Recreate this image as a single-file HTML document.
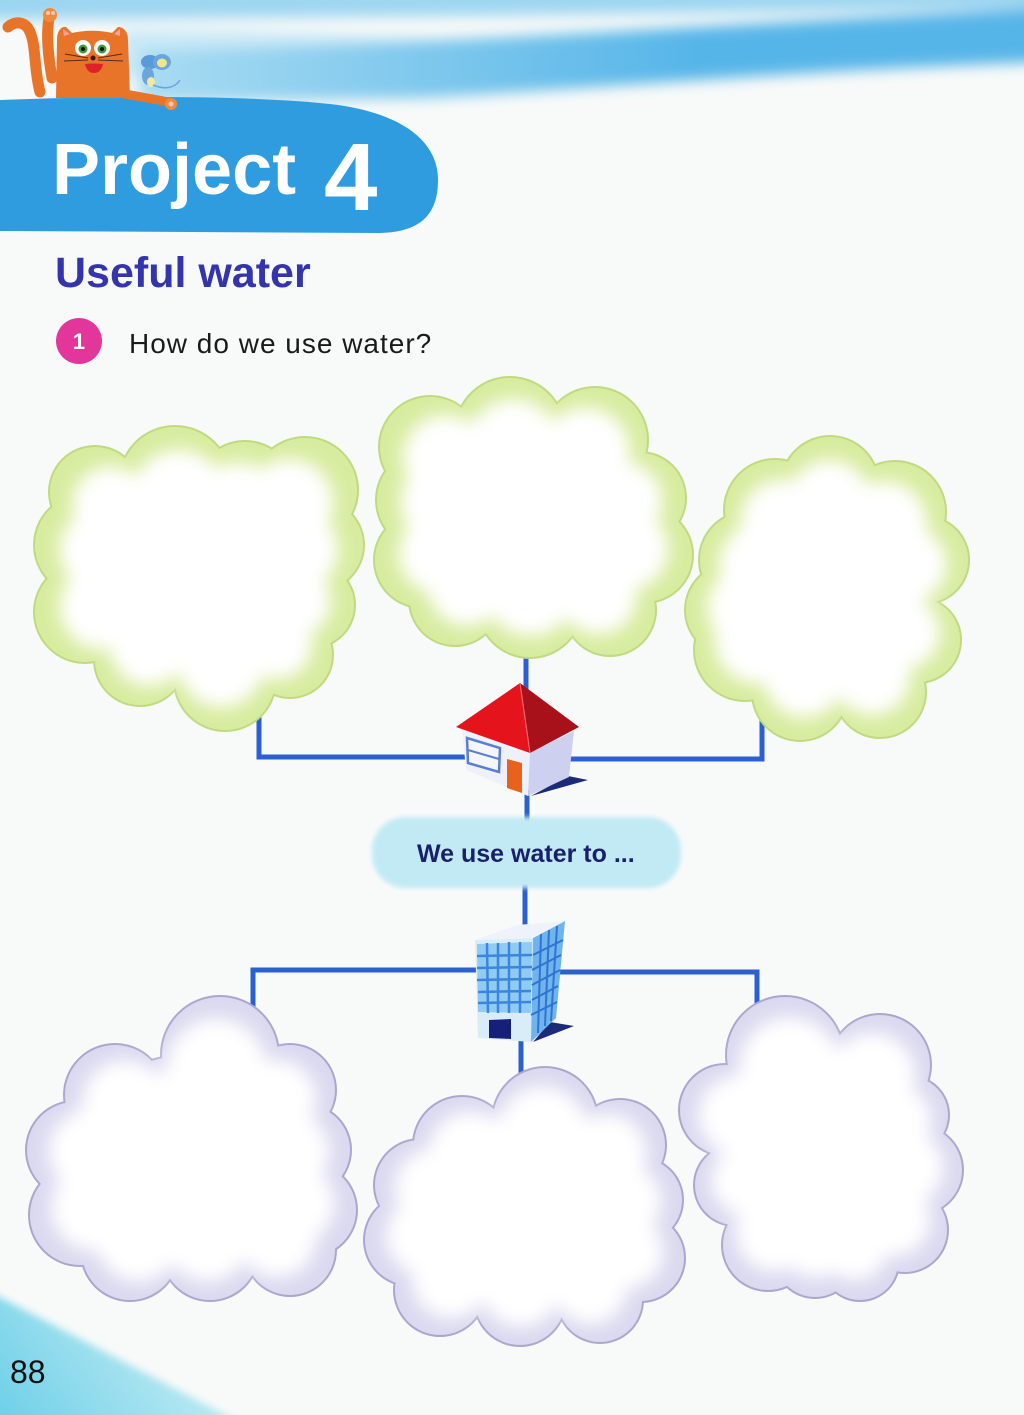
<!DOCTYPE html>
<html><head><meta charset="utf-8"><style>
html,body{margin:0;padding:0;background:#f8faf9;}
svg{display:block;}
</style></head><body>
<svg width="1024" height="1415" viewBox="0 0 1024 1415" xmlns="http://www.w3.org/2000/svg">
<defs>
<filter id="b" x="-20%" y="-20%" width="140%" height="140%"><feGaussianBlur stdDeviation="10"/></filter>
<filter id="s" x="-10%" y="-50%" width="120%" height="200%"><feGaussianBlur stdDeviation="7"/></filter>
<filter id="p" x="-10%" y="-20%" width="120%" height="140%"><feGaussianBlur stdDeviation="2.5"/></filter>
<filter id="c" x="-20%" y="-20%" width="140%" height="140%"><feGaussianBlur stdDeviation="4"/></filter>
<linearGradient id="band" x1="150" y1="0" x2="700" y2="0" gradientUnits="userSpaceOnUse">
<stop offset="0" stop-color="#a7dbf2"/><stop offset="1" stop-color="#56b5e8"/></linearGradient>
<linearGradient id="cy" x1="0" y1="1415" x2="140" y2="1310" gradientUnits="userSpaceOnUse">
<stop offset="0" stop-color="#6fd0e8"/><stop offset="1" stop-color="#b6e8f2"/></linearGradient>
<g id="A">
<circle cx="95" cy="492" r="45"/><circle cx="175" cy="482" r="55"/><circle cx="245" cy="492" r="50"/>
<circle cx="305" cy="490" r="52"/><circle cx="318" cy="545" r="45"/><circle cx="312" cy="605" r="42"/>
<circle cx="290" cy="655" r="42"/><circle cx="225" cy="680" r="50"/><circle cx="140" cy="660" r="45"/>
<circle cx="85" cy="612" r="50"/><circle cx="85" cy="545" r="50"/><ellipse cx="199" cy="578" rx="120" ry="110"/>
</g>
<g id="B">
<circle cx="430" cy="447" r="50"/><circle cx="510" cy="432" r="54"/><circle cx="595" cy="440" r="52"/>
<circle cx="640" cy="498" r="45"/><circle cx="645" cy="555" r="47"/><circle cx="610" cy="610" r="45"/>
<circle cx="530" cy="605" r="52"/><circle cx="455" cy="600" r="45"/><circle cx="422" cy="560" r="47"/>
<circle cx="427" cy="500" r="50"/><ellipse cx="533" cy="520" rx="120" ry="105"/>
</g>
<g id="C">
<circle cx="775" cy="510" r="50"/><circle cx="830" cy="485" r="48"/><circle cx="895" cy="512" r="50"/>
<circle cx="925" cy="560" r="43"/><circle cx="918" cy="640" r="42"/><circle cx="880" cy="692" r="45"/>
<circle cx="800" cy="693" r="47"/><circle cx="745" cy="650" r="50"/><circle cx="732" cy="610" r="46"/>
<circle cx="748" cy="560" r="48"/><ellipse cx="826" cy="595" rx="105" ry="115"/>
</g>
<g id="D">
<circle cx="220" cy="1055" r="58"/><circle cx="290" cy="1090" r="45"/><circle cx="305" cy="1150" r="45"/>
<circle cx="310" cy="1210" r="46"/><circle cx="290" cy="1250" r="45"/><circle cx="210" cy="1252" r="48"/>
<circle cx="130" cy="1252" r="48"/><circle cx="80" cy="1215" r="50"/><circle cx="75" cy="1150" r="48"/>
<circle cx="115" cy="1095" r="50"/><ellipse cx="192" cy="1165" rx="125" ry="110"/>
</g>
<g id="E">
<circle cx="545" cy="1120" r="52"/><circle cx="462" cy="1145" r="48"/><circle cx="620" cy="1145" r="45"/>
<circle cx="640" cy="1200" r="42"/><circle cx="641" cy="1258" r="43"/><circle cx="600" cy="1300" r="42"/>
<circle cx="520" cy="1300" r="45"/><circle cx="440" cy="1290" r="45"/><circle cx="410" cy="1240" r="45"/>
<circle cx="420" cy="1185" r="45"/><ellipse cx="525" cy="1210" rx="115" ry="105"/>
</g>
<g id="F">
<circle cx="785" cy="1055" r="58"/><circle cx="880" cy="1065" r="50"/><circle cx="910" cy="1115" r="38"/>
<circle cx="918" cy="1170" r="44"/><circle cx="905" cy="1230" r="42"/><circle cx="860" cy="1262" r="38"/>
<circle cx="815" cy="1257" r="40"/><circle cx="768" cy="1245" r="45"/><circle cx="735" cy="1185" r="40"/>
<circle cx="725" cy="1110" r="45"/><ellipse cx="820" cy="1150" rx="105" ry="110"/>
</g>
</defs>

<rect x="0" y="0" width="1024" height="1415" fill="#f8faf9"/>

<!-- sky streaks -->
<g filter="url(#s)">
<path d="M-20,-20 H1044 V8 C800,12 500,16 -20,20 Z" fill="#9dd6f0"/>
<path d="M120,30 C300,30 420,40 520,40 L520,60 C400,60 250,70 120,80 Z" fill="#c9e9f6"/>
<path d="M140,50 C400,46 700,26 1044,8 V62 C800,70 600,88 420,98 L140,102 Z" fill="url(#band)"/>
</g>

<!-- bottom-left cyan -->
<path d="M-10,1292 L245,1425 L-10,1425 Z" fill="url(#cy)" filter="url(#c)"/>

<!-- banner -->
<path d="M0,100 C100,96 250,95 330,104 C400,112 438,140 438,180 C438,215 420,232 380,233 L0,231 Z" fill="#2f9ce0"/>

<!-- cat -->
<path d="M40,92 C34,70 36,45 30,32 C26,22 16,20 8,27" fill="none" stroke="#e8742a" stroke-width="11" stroke-linecap="round"/>
<path d="M52,78 C48,55 46,35 49,18" fill="none" stroke="#e8742a" stroke-width="11" stroke-linecap="round"/>
<circle cx="50" cy="15" r="7" fill="#f08a3c"/>
<circle cx="48" cy="13" r="2" fill="#f7c7b0"/><circle cx="53" cy="13" r="2" fill="#f7c7b0"/>
<path d="M57,40 C57,30 62,26 66,27 L72,33 C85,30 100,30 112,33 L118,27 C124,27 128,32 128,40 L130,98 L56,98 Z" fill="#e8742a"/>
<path d="M63,29 L70,34 L64,36 Z" fill="#f4a3a0"/><path d="M120,29 L114,34 L120,36 Z" fill="#f4a3a0"/>
<circle cx="83" cy="48" r="8" fill="#fff"/><circle cx="102" cy="48" r="8" fill="#fff"/>
<circle cx="83" cy="49" r="4.5" fill="#3f9a3a"/><circle cx="102" cy="49" r="4.5" fill="#3f9a3a"/>
<circle cx="83" cy="49" r="2" fill="#111"/><circle cx="102" cy="49" r="2" fill="#111"/>
<circle cx="93" cy="58" r="2.5" fill="#3a1a10"/>
<path d="M85,64 Q94,63 103,64 Q101,73 94,73 Q87,73 85,64 Z" fill="#e0202a"/>
<g stroke="#5a2a18" stroke-width="1"><line x1="88" y1="58" x2="65" y2="54"/><line x1="88" y1="60" x2="64" y2="61"/><line x1="98" y1="58" x2="122" y2="54"/><line x1="98" y1="60" x2="123" y2="61"/></g>
<path d="M125,94 C140,97 155,99 168,102" fill="none" stroke="#e8742a" stroke-width="9" stroke-linecap="round"/>
<circle cx="171" cy="104" r="6" fill="#f08a3c"/><circle cx="171" cy="104" r="2.5" fill="#f7c7b0"/>
<!-- mouse -->
<ellipse cx="150" cy="62" rx="9" ry="7" fill="#5b9ad8"/><ellipse cx="162" cy="62" rx="9" ry="8" fill="#6aa6dc"/>
<ellipse cx="162" cy="63" rx="5" ry="4.5" fill="#efe68a"/>
<ellipse cx="148" cy="76" rx="6" ry="9" fill="#6aa6dc"/><ellipse cx="151" cy="82" rx="4" ry="5" fill="#f1e9a0"/>
<path d="M153,85 C165,90 175,88 180,80" fill="none" stroke="#6aa6dc" stroke-width="1.5"/>

<!-- title -->
<text x="52" y="194" font-family="Liberation Sans, sans-serif" font-weight="bold" font-size="72" fill="#ffffff">Project</text>
<text x="324" y="210" font-family="Liberation Sans, sans-serif" font-weight="bold" font-size="96" fill="#ffffff">4</text>

<text x="55" y="287" font-family="Liberation Sans, sans-serif" font-weight="bold" font-size="43" fill="#3434ad">Useful water</text>

<circle cx="79" cy="341" r="23" fill="#e2369b"/>
<text x="79" y="349" text-anchor="middle" font-family="Liberation Sans, sans-serif" font-weight="bold" font-size="22" fill="#ffffff">1</text>
<text x="129" y="353" font-family="Liberation Sans, sans-serif" font-size="28" letter-spacing="1" fill="#1a1a1a">How do we use water?</text>

<!-- connectors -->
<g stroke="#2c5fcf" stroke-width="5" fill="none">
<path d="M259,700 V757 H465"/>
<path d="M565,759 H762 V710"/>
<path d="M526,645 V690"/>
<path d="M527,790 V822"/>
<path d="M525,884 V928"/>
<path d="M253,1015 V970 H478"/>
<path d="M555,972 H757 V1015"/>
<path d="M521,1035 V1080"/>
</g>

<!-- green clouds -->
<use href="#A" fill="none" stroke="#c0da80" stroke-width="4"/>
<use href="#A" fill="#d8eca0"/>
<use href="#A" fill="#ffffff" filter="url(#b)" transform="translate(199 578) scale(.85) translate(-199 -578)"/>
<use href="#B" fill="none" stroke="#c0da80" stroke-width="4"/>
<use href="#B" fill="#d8eca0"/>
<use href="#B" fill="#ffffff" filter="url(#b)" transform="translate(533 518) scale(.85) translate(-533 -518)"/>
<use href="#C" fill="none" stroke="#c0da80" stroke-width="4"/>
<use href="#C" fill="#d8eca0"/>
<use href="#C" fill="#ffffff" filter="url(#b)" transform="translate(826 590) scale(.85) translate(-826 -590)"/>

<!-- purple clouds -->
<use href="#D" fill="none" stroke="#aaa6cf" stroke-width="4"/>
<use href="#D" fill="#dbd9ef"/>
<use href="#D" fill="#ffffff" filter="url(#b)" transform="translate(192 1160) scale(.87) translate(-192 -1160)"/>
<use href="#E" fill="none" stroke="#aaa6cf" stroke-width="4"/>
<use href="#E" fill="#dbd9ef"/>
<use href="#E" fill="#ffffff" filter="url(#b)" transform="translate(525 1207) scale(.87) translate(-525 -1207)"/>
<use href="#F" fill="none" stroke="#aaa6cf" stroke-width="4"/>
<use href="#F" fill="#dbd9ef"/>
<use href="#F" fill="#ffffff" filter="url(#b)" transform="translate(820 1150) scale(.87) translate(-820 -1150)"/>

<!-- house -->
<polygon points="531,796 588,780 568,776" fill="#1c2a7a"/>
<polygon points="462,729 530,753 528,796 466,770" fill="#eef0fa"/>
<polygon points="530,753 574,731 569,777 528,796" fill="#cdd0ee"/>
<polygon points="467,738 500,748 499,772 468,763" fill="#f4f6fc" stroke="#5b7fd0" stroke-width="2.5"/>
<line x1="468" y1="750" x2="499" y2="759" stroke="#5b7fd0" stroke-width="2"/>
<polygon points="507,759 522,763 522,793 507,788" fill="#e8621c"/>
<polygon points="520,683 456,727 530,753" fill="#e5141c"/>
<polygon points="520,683 579,727 530,753" fill="#a8101a"/>
<line x1="520" y1="683" x2="530" y2="753" stroke="#f06a6a" stroke-width="1.2"/>

<!-- pill -->
<rect x="372" y="817" width="309" height="71" rx="33" fill="#c2eaf5" filter="url(#p)"/>
<text x="417" y="862" font-family="Liberation Sans, sans-serif" font-weight="bold" font-size="25" fill="#1a1f6b">We use water to ...</text>

<!-- building -->
<polygon points="533,1042 574,1026 550,1022" fill="#1c2a7a"/>
<polygon points="475,940 533,938 531,1042 478,1038" fill="#d9edf9"/>
<polygon points="477,944 532,942 531,1013 478,1012" fill="#8fcbf3"/>
<g stroke="#3a86de" stroke-width="2.5">
<line x1="487" y1="943" x2="488" y2="1013"/><line x1="498" y1="943" x2="498" y2="1013"/>
<line x1="509" y1="942" x2="509" y2="1013"/><line x1="520" y1="942" x2="520" y2="1013"/>
<line x1="477" y1="956" x2="532" y2="955"/><line x1="477" y1="968" x2="532" y2="967"/>
<line x1="477" y1="980" x2="532" y2="979"/><line x1="478" y1="992" x2="531" y2="991"/>
<line x1="478" y1="1003" x2="531" y2="1002"/>
</g>
<polygon points="489,1020 511,1019 511,1039 489,1038" fill="#16207a"/>
<polygon points="533,938 565,921 556,1018 531,1042" fill="#6fb4ec"/>
<g stroke="#2f74d0" stroke-width="2">
<line x1="541" y1="934" x2="538" y2="1033"/><line x1="549" y1="930" x2="545" y2="1026"/><line x1="557" y1="926" x2="551" y2="1021"/>
<line x1="533" y1="955" x2="563" y2="940"/><line x1="532" y1="970" x2="561" y2="955"/><line x1="532" y1="985" x2="560" y2="970"/>
<line x1="532" y1="1000" x2="558" y2="986"/><line x1="531" y1="1015" x2="557" y2="1002"/>
</g>
<polygon points="475,940 517,925 565,921 533,938" fill="#eef3fb"/>

<!-- page number -->
<text x="10" y="1383" font-family="Liberation Sans, sans-serif" font-size="32" fill="#111">88</text>
</svg>
</body></html>
